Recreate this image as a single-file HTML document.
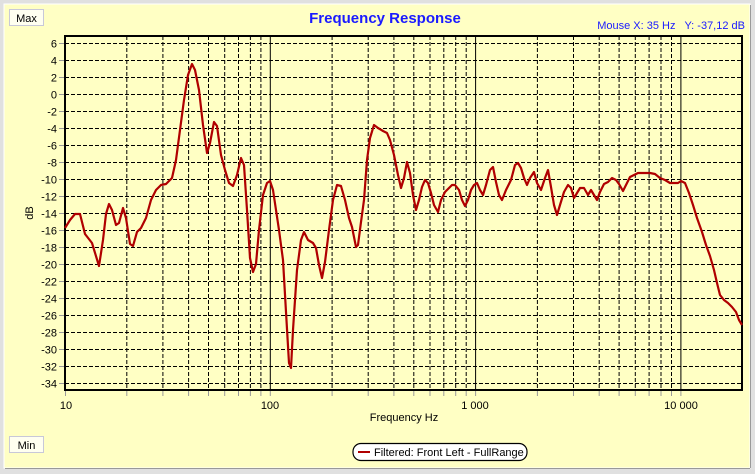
<!DOCTYPE html>
<html><head><meta charset="utf-8"><style>
html,body{margin:0;padding:0;background:#e0e0e0;}
svg{display:block;font-family:"Liberation Sans",Arial,sans-serif;}
</style></head><body>
<svg width="755" height="474" viewBox="0 0 755 474" xmlns="http://www.w3.org/2000/svg">
<rect x="0" y="0" width="755" height="474" fill="#e0e0e0"/>
<rect x="4" y="4" width="746" height="464" fill="#ffffc4" stroke="#ffffff" stroke-width="1"/>
<line x1="5" y1="468.5" x2="750" y2="468.5" stroke="#999" stroke-width="1"/>
<line x1="750.5" y1="5" x2="750.5" y2="468" stroke="#999" stroke-width="1"/>
<rect x="9.5" y="9.5" width="34" height="16" fill="#fffff0" stroke="#c8c8d8"/>
<text x="26.5" y="22" font-size="11" text-anchor="middle" fill="#000">Max</text>
<rect x="9.5" y="436.5" width="34" height="16" fill="#fffff0" stroke="#c8c8d8"/>
<text x="26.5" y="449" font-size="11" text-anchor="middle" fill="#000">Min</text>
<text x="385" y="23" font-size="15" font-weight="bold" text-anchor="middle" fill="#1a1aff">Frequency Response</text>
<text x="745" y="29" font-size="11" text-anchor="end" fill="#1a1aff" xml:space="preserve" style="white-space:pre">Mouse X: 35 Hz   Y: -37,12 dB</text>
<g stroke="#000" stroke-width="1" stroke-dasharray="4,2" fill="none">
<path d="M65 43.5H742M65 60.5H742M65 77.5H742M65 94.5H742M65 111.5H742M65 128.5H742M65 145.5H742M65 162.5H742M65 179.5H742M65 196.5H742M65 213.5H742M65 230.5H742M65 247.5H742M65 264.5H742M65 281.5H742M65 298.5H742M65 315.5H742M65 332.5H742M65 349.5H742M65 366.5H742M65 383.5H742"/>
<path d="M126.8 36V390M162.9 36V390M188.6 36V390M208.5 36V390M224.7 36V390M238.5 36V390M250.4 36V390M260.9 36V390M332.1 36V390M368.2 36V390M393.9 36V390M413.8 36V390M430 36V390M443.8 36V390M455.7 36V390M466.2 36V390M537.4 36V390M573.5 36V390M599.2 36V390M619.1 36V390M635.3 36V390M649.1 36V390M661 36V390M671.5 36V390"/>
</g>
<path d="M270.3 36V390M475.6 36V390M680.9 36V390" stroke="#000" stroke-width="1"/>
<g stroke="#999" stroke-width="1">
<path d="M65.5 390V396M126.8 390V396M162.9 390V396M188.6 390V396M208.5 390V396M224.7 390V396M238.5 390V396M250.4 390V396M260.9 390V396M270.3 390V396M332.1 390V396M368.2 390V396M393.9 390V396M413.8 390V396M430 390V396M443.8 390V396M455.7 390V396M466.2 390V396M475.6 390V396M537.4 390V396M573.5 390V396M599.2 390V396M619.1 390V396M635.3 390V396M649.1 390V396M661 390V396M671.5 390V396M680.9 390V396"/>
<path d="M59 43.5H65M59 60.5H65M59 77.5H65M59 94.5H65M59 111.5H65M59 128.5H65M59 145.5H65M59 162.5H65M59 179.5H65M59 196.5H65M59 213.5H65M59 230.5H65M59 247.5H65M59 264.5H65M59 281.5H65M59 298.5H65M59 315.5H65M59 332.5H65M59 349.5H65M59 366.5H65M59 383.5H65"/>
</g>
<rect x="65" y="36" width="677" height="354" fill="none" stroke="#000" stroke-width="2"/>
<g font-size="11" fill="#000" text-anchor="end">
<text x="57" y="47.5">6</text><text x="57" y="64.5">4</text><text x="57" y="81.5">2</text><text x="57" y="98.5">0</text><text x="57" y="115.5">-2</text><text x="57" y="132.5">-4</text><text x="57" y="149.5">-6</text><text x="57" y="166.5">-8</text><text x="57" y="183.5">-10</text><text x="57" y="200.5">-12</text><text x="57" y="217.5">-14</text><text x="57" y="234.5">-16</text><text x="57" y="251.5">-18</text><text x="57" y="268.5">-20</text><text x="57" y="285.5">-22</text><text x="57" y="302.5">-24</text><text x="57" y="319.5">-26</text><text x="57" y="336.5">-28</text><text x="57" y="353.5">-30</text><text x="57" y="370.5">-32</text><text x="57" y="387.5">-34</text>
</g>
<g font-size="11" fill="#000" text-anchor="middle">
<text x="66" y="409">10</text><text x="270" y="409">100</text><text x="475" y="409">1 000</text><text x="681" y="409">10 000</text>
<text x="404" y="421">Frequency Hz</text>
</g>
<text transform="translate(33,213) rotate(-90)" font-size="11" text-anchor="middle" fill="#000">dB</text>
<polyline fill="none" stroke="#b00000" stroke-width="2.2" stroke-linejoin="round" points="65,228 70,220 75,214 80,214 85,234 92,243 99,266 103,240 106,214 109,204 112,210 116,225 119,223 123,208 126,218 130,244 133,246 137,232 141,228 146,218 151,200 156,190 161,185 166,184 172,178 176,160 180,130 184,100 188,75 192,64 195,70 199,90 203,125 207,153 210,143 214,122 217,126 221,155 225,170 229,183 233,186 237,175 241,158 244,165 247,210 250,258 253,272 256,264 259,230 263,195 267,183 270,181 273,190 276,210 279,230 283,260 286,312 289,363 291,368 293,330 297,270 301,240 304,232 308,240 313,243 316,248 319,265 322,278 325,262 329,230 333,200 337,185 341,186 345,200 349,218 352,227 356,247 358,245 361,222 364,200 367,160 370,138 374,125 378,128 383,131 387,133 390,140 394,155 398,175 401,188 404,178 407,162 410,173 413,195 416,210 419,200 422,187 425,180 428,183 431,193 434,205 438,212 441,200 445,192 449,188 452,185 455,185 459,190 462,200 465,206 468,200 471,190 474,185 477,183 480,190 483,195 486,185 490,170 493,167 496,182 499,195 502,200 506,190 511,180 515,165 518,163 521,168 524,178 527,185 530,178 534,172 537,183 541,190 545,178 548,170 551,187 554,205 557,215 560,205 564,192 568,185 571,188 574,198 577,193 580,188 584,188 588,195 591,190 594,195 597,200 600,192 604,184 608,182 612,178 616,180 619,184 623,191 626,185 630,177 634,175 638,173 642,173 646,173 650,173 655,174 660,178 665,180 670,183 674,183 678,183 681,181 685,183 689,193 693,205 697,218 702,232 706,245 710,256 714,270 717,283 720,295 724,300 728,303 732,307 736,312 739,320 742,325"/>
<rect x="353" y="443.5" width="174" height="17" rx="8" ry="8" fill="#fff" stroke="#000" stroke-width="1.2"/>
<line x1="358" y1="452" x2="370" y2="452" stroke="#b00000" stroke-width="2"/>
<text x="374" y="456" font-size="11" fill="#000">Filtered: Front Left - FullRange</text>
</svg>
</body></html>
